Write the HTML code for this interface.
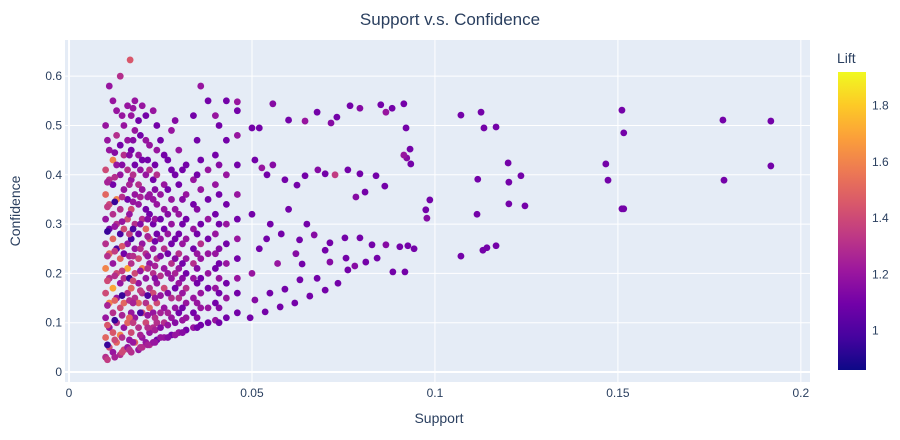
<!DOCTYPE html>
<html><head><meta charset="utf-8"><style>
body{margin:0;background:#fff;}
svg text{font-family:"Liberation Sans",sans-serif;fill:#2a3f5f;}
</style></head><body>
<svg id="chart" width="900" height="435">
<defs><linearGradient id="plasma" x1="0" y1="1" x2="0" y2="0">
<stop offset="0" stop-color="#0d0887"/><stop offset="0.111" stop-color="#46039f"/><stop offset="0.222" stop-color="#7201a8"/><stop offset="0.333" stop-color="#9c179e"/><stop offset="0.444" stop-color="#bd3786"/><stop offset="0.556" stop-color="#d8576b"/><stop offset="0.667" stop-color="#ed7953"/><stop offset="0.778" stop-color="#fb9f3a"/><stop offset="0.889" stop-color="#fdca26"/><stop offset="1" stop-color="#f0f921"/></linearGradient></defs>
<text x="450" y="25" text-anchor="middle" font-size="17">Support v.s. Confidence</text>
<rect x="65" y="40" width="745" height="342" fill="#e5ecf6"/>
<g id="grid"></g><g id="pts"></g><g id="axes"></g>
<text x="439" y="423" text-anchor="middle" font-size="14">Support</text>
<text transform="translate(20,211) rotate(-90)" text-anchor="middle" font-size="14">Confidence</text>
<text x="837" y="63" font-size="14">Lift</text>
<rect x="838" y="72" width="28" height="298" fill="url(#plasma)"/>
<g id="cbticks"></g>
</svg>
<script>
const support=[
.010,.010,.010,.010,.010,.010,.010,.010,.010,.010,
.011,.011,.011,.011,.011,.011,.011,.011,.011,.011,
.012,.012,.012,.012,.012,.012,.012,.012,.012,.012,
.013,.013,.013,.013,.013,.013,.013,.013,.013,.013,
.014,.014,.014,.014,.014,.014,.014,.014,.014,.014,
.015,.015,.015,.015,.015,.015,.015,.015,.015,.0167,
.016,.016,.016,.016,.016,.016,.016,.016,.016,.016,
.017,.017,.017,.017,.017,.017,.017,.017,.017,.017,
.018,.018,.018,.018,.018,.018,.018,.018,.018,.018,
.019,.019,.019,.019,.019,.019,.019,.019,.019,.019,
.020,.020,.020,.020,.020,.020,.020,.020,.020,.020,
.021,.021,.021,.021,.021,.021,.021,.021,.021,.021,
.022,.022,.022,.022,.022,.022,.022,.022,.022,.022,
.023,.023,.023,.023,.023,.023,.023,.023,.023,.023,
.024,.024,.024,.024,.024,.024,.024,.024,.024,.024,
.026,.026,.026,.026,.026,.026,.026,.026,.026,.026,
.028,.028,.028,.028,.028,.028,.028,.028,.028,.028,
.030,.030,.030,.030,.030,.030,.030,.030,.030,.030,
.032,.032,.032,.032,.032,.032,.032,.032,.032,.032,
.034,.034,.034,.034,.034,.034,.034,.034,.034,.034,
.036,.036,.036,.036,.036,.036,.036,.036,.036,.036,
.038,.038,.038,.038,.038,.038,.038,.038,.038,.038,
.040,.040,.040,.040,.040,.040,.040,.040,.040,.040,
.043,.043,.043,.043,.043,.043,.043,.043,.043,.043,
.046,.046,.046,.046,.046,.046,.046,.046,.046,.046,
.050,.046,.052,.0557,.060,.0645,.0678,.0716,.0732,.0768,
.0795,.0852,.0866,.0883,.0915,.0921,.0923,.0932,.0934,.0915,
.0975,.0978,.0986,.0508,.0527,.0541,.0557,.059,.0623,.0645,
.068,.070,.0727,.0762,.0784,.0809,.0795,.0839,.0863,.063,
.067,.0713,.0754,.0795,.0828,.0866,.0904,.0926,.0943,.0637,
.070,.0762,.0781,.0811,.0842,.0885,.0918,.0757,.0713,.0678,
.0631,.059,.0549,.0508,.0735,.070,.0658,.0617,.0577,.0536,
.0495,.050,.052,.055,.057,.060,.062,.065,.050,.054,
.058,.1071,.1126,.1134,.1167,.1117,.1115,.120,.1202,.1202,
.1235,.1246,.1071,.1131,.1142,.1167,.1467,.1473,.1511,.1516,
.1511,.1516,.1787,.1918,.179,.1918,
.0105,.0105,.0105,.0105,.0105,.0105,.0105,.0105,.0105,.0105,
.0125,.0125,.0125,.0125,.0125,.0125,.0125,.0125,.0125,.0125,
.0145,.0145,.0145,.0145,.0145,.0145,.0145,.0145,.0145,.0145,
.0165,.0165,.0165,.0165,.0165,.0165,.0165,.0165,.0165,.0165,
.0175,.0175,.0175,.0175,.0175,.0175,.0175,.0175,.0175,.0175,
.0195,.0195,.0195,.0195,.0195,.0195,.0195,.0195,.0195,.0195,
.0215,.0215,.0215,.0215,.0215,.0215,.0215,.0215,.0215,.0215,
.0235,.0235,.0235,.0235,.0235,.0235,.0235,.0235,.0235,.0235,
.025,.025,.025,.025,.025,.025,.025,.025,.025,.025,
.027,.027,.027,.027,.027,.027,.027,.027,.027,.027,
.029,.029,.029,.029,.029,.029,.029,.029,.029,.029,
.031,.031,.031,.031,.031,.031,.031,.031,.031,.031,
.035,.035,.035,.035,.035,.035,.035,.035,.035,.035,
.041,.041,.041,.041,.041,.041,.041,.041,.041,.041];
const confidence=[
.03,.07,.11,.16,.21,.26,.31,.36,.41,.50,
.05,.09,.14,.19,.24,.29,.34,.39,.45,.58,
.04,.08,.12,.17,.22,.27,.32,.38,.43,.55,
.06,.10,.15,.20,.25,.30,.35,.42,.48,.53,
.035,.075,.13,.18,.23,.28,.33,.40,.46,.60,
.045,.09,.14,.19,.24,.29,.37,.44,.50,.633,
.05,.10,.16,.21,.26,.31,.35,.41,.47,.54,
.04,.08,.12,.17,.22,.27,.33,.39,.45,.52,
.06,.11,.15,.20,.25,.30,.36,.42,.49,.55,
.045,.09,.14,.18,.23,.28,.34,.38,.44,.51,
.05,.07,.12,.16,.21,.26,.31,.37,.43,.54,
.06,.10,.14,.19,.24,.29,.33,.40,.47,.52,
.055,.08,.13,.17,.22,.27,.32,.36,.41,.46,
.06,.09,.12,.16,.20,.25,.30,.35,.39,.53,
.065,.10,.14,.18,.23,.28,.34,.40,.45,.50,
.07,.10,.13,.17,.21,.25,.29,.33,.38,.44,
.075,.11,.15,.19,.22,.26,.30,.35,.41,.49,
.08,.12,.15,.18,.21,.24,.28,.32,.38,.45,
.085,.11,.14,.17,.20,.23,.27,.31,.36,.42,
.09,.12,.15,.19,.22,.25,.29,.34,.39,.52,
.095,.13,.16,.19,.23,.26,.30,.37,.43,.58,
.10,.13,.17,.20,.24,.27,.31,.35,.41,.55,
.105,.14,.17,.21,.24,.28,.32,.38,.44,.52,
.11,.15,.18,.22,.26,.30,.34,.40,.47,.55,
.12,.16,.19,.23,.27,.31,.36,.42,.48,.53,
.495,.548,.495,.544,.511,.509,.527,.505,.517,.54,
.535,.542,.527,.535,.544,.495,.434,.452,.422,.44,
.329,.312,.349,.43,.414,.40,.42,.39,.379,.398,
.41,.402,.40,.41,.355,.365,.402,.398,.377,.268,
.278,.262,.272,.272,.258,.258,.254,.256,.25,.219,
.247,.207,.215,.223,.231,.203,.203,.231,.223,.19,
.187,.168,.16,.146,.18,.166,.154,.14,.132,.122,
.11,.20,.25,.30,.22,.33,.24,.30,.32,.27,
.28,.521,.527,.495,.497,.391,.32,.424,.385,.341,
.398,.337,.235,.247,.252,.256,.422,.389,.531,.485,
.331,.331,.511,.509,.389,.418,
.025,.055,.095,.135,.185,.235,.285,.335,.385,.47,
.03,.065,.105,.145,.195,.245,.295,.345,.395,.445,
.04,.07,.115,.155,.205,.255,.305,.355,.42,.52,
.045,.065,.11,.145,.19,.235,.28,.32,.38,.44,
.06,.10,.14,.185,.235,.29,.345,.40,.47,.535,
.05,.075,.12,.165,.205,.25,.30,.355,.41,.48,
.055,.09,.115,.155,.21,.235,.275,.31,.355,.43,
.06,.085,.11,.15,.19,.215,.265,.31,.37,.42,
.07,.09,.12,.155,.195,.235,.27,.31,.36,.47,
.07,.095,.12,.16,.20,.24,.28,.32,.37,.43,
.075,.10,.13,.17,.20,.23,.27,.33,.40,.51,
.08,.105,.13,.16,.19,.22,.26,.30,.35,.41,
.09,.11,.14,.18,.21,.24,.28,.33,.40,.47,
.10,.13,.16,.19,.22,.25,.30,.36,.42,.50];
const lift=[
1.3,1.5,1.2,1.4,1.6,1.3,1.2,1.5,1.4,1.2,
1.4,1.2,1.6,1.3,1.5,1.1,1.4,1.3,1.2,1.2,
1.2,1.45,1.3,1.7,1.2,1.5,1.3,1.1,1.6,1.2,
1.5,1.3,1.2,1.4,1.0,1.3,1.6,1.2,1.3,1.2,
1.3,1.6,1.4,1.2,1.5,1.0,1.3,1.2,1.1,1.3,
1.4,1.2,1.5,1.3,1.1,1.4,1.2,1.3,1.2,1.45,
1.2,1.5,1.3,1.7,1.2,1.4,1.1,1.3,1.2,1.2,
1.3,1.4,1.2,1.5,1.3,1.0,1.4,1.2,1.1,1.2,
1.5,1.2,1.3,1.4,1.2,1.3,1.2,1.1,1.2,1.2,
1.2,1.3,1.5,1.2,1.4,1.1,1.2,1.3,1.2,1.1,
1.3,1.2,1.4,1.3,1.6,1.2,1.3,1.2,1.1,1.2,
1.2,1.4,1.3,1.2,1.3,1.5,1.1,1.2,1.2,1.1,
1.3,1.2,1.5,1.3,1.2,1.4,1.1,1.2,1.3,1.2,
1.2,1.3,1.2,1.4,1.3,1.2,1.1,1.2,1.1,1.2,
1.1,1.3,1.4,1.2,1.3,1.1,1.2,1.3,1.2,1.1,
1.2,1.3,1.2,1.4,1.2,1.3,1.1,1.2,1.2,1.1,
1.1,1.2,1.3,1.2,1.3,1.1,1.2,1.2,1.1,1.2,
1.2,1.1,1.3,1.2,1.2,1.3,1.1,1.2,1.1,1.2,
1.1,1.2,1.2,1.3,1.1,1.2,1.2,1.1,1.2,1.1,
1.2,1.1,1.2,1.2,1.3,1.1,1.2,1.1,1.2,1.1,
1.1,1.2,1.2,1.1,1.2,1.3,1.1,1.2,1.1,1.2,
1.1,1.2,1.1,1.2,1.2,1.1,1.2,1.1,1.2,1.1,
1.2,1.1,1.2,1.1,1.2,1.2,1.1,1.2,1.1,1.2,
1.1,1.2,1.1,1.2,1.1,1.2,1.1,1.2,1.1,1.1,
1.1,1.1,1.2,1.1,1.2,1.1,1.2,1.1,1.2,1.1,
1.1,1.2,1.1,1.15,1.1,1.2,1.1,1.15,1.1,1.1,
1.15,1.1,1.2,1.1,1.1,1.1,1.15,1.1,1.1,1.2,
1.1,1.15,1.1,1.1,1.2,1.1,1.15,1.1,1.1,1.1,
1.15,1.1,1.35,1.1,1.15,1.1,1.1,1.1,1.1,1.1,
1.15,1.1,1.1,1.1,1.1,1.15,1.1,1.1,1.1,1.1,
1.1,1.1,1.15,1.1,1.1,1.1,1.1,1.1,1.15,1.1,
1.1,1.1,1.1,1.15,1.1,1.1,1.1,1.1,1.1,1.1,
1.1,1.2,1.1,1.1,1.2,1.1,1.15,1.1,1.1,1.1,
1.1,1.1,1.1,1.1,1.1,1.1,1.1,1.1,1.1,1.1,
1.1,1.1,1.1,1.1,1.1,1.1,1.1,1.1,1.1,1.1,
1.1,1.1,1.1,1.1,1.1,1.1,
1.35,0.95,1.45,1.25,1.4,1.3,0.95,1.35,1.25,1.2,
1.25,1.4,0.95,1.5,1.3,1.35,1.2,0.95,1.3,1.15,
1.4,1.3,1.25,0.95,1.35,1.45,1.2,1.3,1.15,1.2,
1.3,1.2,1.5,1.3,0.95,1.25,1.35,1.2,1.25,1.15,
1.2,1.35,1.25,1.4,1.3,1.0,1.2,1.3,1.15,1.2,
1.3,1.25,1.0,1.35,1.2,1.3,1.15,1.25,1.2,1.1,
1.25,1.3,1.2,1.0,1.3,1.2,1.25,1.15,1.2,1.1,
1.2,1.25,1.3,1.2,1.15,1.25,1.1,1.2,1.15,1.1,
1.2,1.15,1.25,1.2,1.3,1.15,1.2,1.1,1.2,1.1,
1.15,1.2,1.25,1.15,1.2,1.1,1.2,1.15,1.1,1.1,
1.2,1.15,1.2,1.1,1.25,1.15,1.1,1.2,1.1,1.15,
1.15,1.2,1.1,1.2,1.15,1.1,1.2,1.1,1.15,1.1,
1.1,1.15,1.2,1.1,1.15,1.2,1.1,1.15,1.1,1.1,
1.1,1.15,1.1,1.2,1.1,1.15,1.1,1.1,1.15,1.1];
const xTicks=[0,0.05,0.1,0.15,0.2];
const xTickLabels=["0","0.05","0.1","0.15","0.2"];
const yTicks=[0,0.1,0.2,0.3,0.4,0.5,0.6];
const yTickLabels=["0","0.1","0.2","0.3","0.4","0.5","0.6"];
const cbTicks=[1,1.2,1.4,1.6,1.8];
const cbTickLabels=["1","1.2","1.4","1.6","1.8"];
const X0=65,X1=810,Y0=382,Y1=40,XMIN=-0.0011,XMAX=0.2025,YMIN=-0.0203,YMAX=0.6734,CMIN=0.86,CMAX=1.92;
const xs=v=>X0+(v-XMIN)/(XMAX-XMIN)*(X1-X0);
const ys=v=>Y0-(v-YMIN)/(YMAX-YMIN)*(Y0-Y1);
const cs=v=>370-(v-CMIN)/(CMAX-CMIN)*298;
const stops=[[0,[13,8,135]],[.111,[70,3,159]],[.222,[114,1,168]],[.333,[156,23,158]],[.444,[189,55,134]],[.556,[216,87,107]],[.667,[237,121,83]],[.778,[251,159,58]],[.889,[253,202,38]],[1,[240,249,33]]];
function col(v){let t=Math.max(0,Math.min(1,(v-CMIN)/(CMAX-CMIN)));for(let i=1;i<stops.length;i++){if(t<=stops[i][0]){const a=stops[i-1],b=stops[i],f=(t-a[0])/(b[0]-a[0]);return 'rgb('+a[1].map((c,k)=>Math.round(c+(b[1][k]-c)*f)).join(',')+')';}}return 'rgb(240,249,33)';}
const NS='http://www.w3.org/2000/svg';
function mk(tag,attrs,parent,txt){const e=document.createElementNS(NS,tag);for(const k in attrs)e.setAttribute(k,attrs[k]);if(txt!==undefined)e.textContent=txt;parent.appendChild(e);return e;}
const grid=document.getElementById('grid'),axes=document.getElementById('axes'),pts=document.getElementById('pts'),cb=document.getElementById('cbticks');
xTicks.forEach((t,i)=>{
 const l=mk('line',{x1:xs(t),x2:xs(t),y1:Y1,y2:Y0,stroke:'#fff','stroke-width':t===0?2:1},grid);
 
 
 const tx=mk('text',{x:xs(t),y:397,'text-anchor':'middle','font-size':12},axes,xTickLabels[i]);
 
 
});
yTicks.forEach((t,i)=>{
 const l=mk('line',{x1:X0,x2:X1,y1:ys(t),y2:ys(t),stroke:'#fff','stroke-width':t===0?2:1},grid);
 
 
 const tx=mk('text',{x:62,y:ys(t)+4,'text-anchor':'end','font-size':12},axes,yTickLabels[i]);
 
 
});
cbTicks.forEach((t,i)=>{
 const tx=mk('text',{x:872,y:cs(t)+4,'font-size':12},cb,cbTickLabels[i]);
 
 
});
for(let i=0;i<support.length;i++){
 const c=mk('circle',{cx:xs(support[i]),cy:ys(confidence[i]),r:3.4,fill:col(lift[i])},pts);
 
 
}
</script>
</body></html>
